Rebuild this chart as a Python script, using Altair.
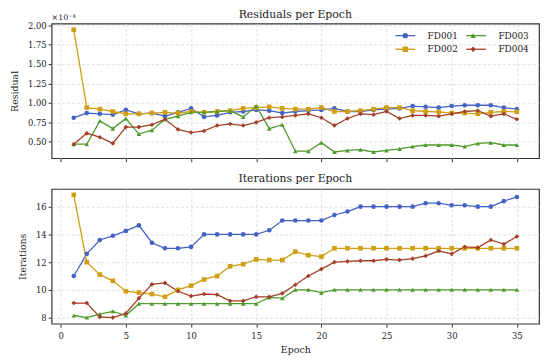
import altair as alt
import pandas as pd

epochs = list(range(1, 36))
series_names = ["FD001", "FD002", "FD003", "FD004"]

# Residuals (in units of 1e-4)
res_fd001 = [0.81, 0.87, 0.86, 0.85, 0.91, 0.86, 0.87, 0.83, 0.88, 0.93, 0.82, 0.84, 0.88, 0.89, 0.91,
             0.90, 0.87, 0.89, 0.90, 0.91, 0.93, 0.89, 0.89, 0.91, 0.92, 0.93, 0.96, 0.95, 0.94, 0.96,
             0.97, 0.97, 0.97, 0.94, 0.92]
res_fd002 = [1.94, 0.94, 0.92, 0.89, 0.86, 0.86, 0.87, 0.88, 0.87, 0.89, 0.88, 0.89, 0.90, 0.93, 0.94,
             0.95, 0.93, 0.92, 0.92, 0.94, 0.89, 0.89, 0.90, 0.92, 0.94, 0.94, 0.90, 0.89, 0.885, 0.87,
             0.87, 0.86, 0.88, 0.89, 0.885]
res_fd003 = [0.47, 0.47, 0.77, 0.67, 0.80, 0.60, 0.65, 0.79, 0.83, 0.88, 0.88, 0.89, 0.90, 0.82, 0.96,
             0.67, 0.72, 0.38, 0.38, 0.49, 0.37, 0.39, 0.40, 0.37, 0.39, 0.41, 0.44, 0.46, 0.46, 0.46,
             0.44, 0.48, 0.49, 0.46, 0.46]
res_fd004 = [0.47, 0.61, 0.56, 0.48, 0.69, 0.69, 0.72, 0.79, 0.66, 0.62, 0.64, 0.71, 0.73, 0.71, 0.75,
             0.81, 0.82, 0.84, 0.86, 0.81, 0.71, 0.80, 0.86, 0.85, 0.89, 0.80, 0.84, 0.84, 0.83, 0.86,
             0.89, 0.90, 0.83, 0.86, 0.79]

# Iterations
it_fd001 = [11.0, 12.6, 13.6, 13.9, 14.25, 14.65, 13.4, 13.0, 13.0, 13.1, 14.0, 14.0, 14.0, 14.0, 14.0,
            14.3, 15.0, 15.0, 15.0, 15.0, 15.4, 15.65, 16.0, 16.0, 16.0, 16.0, 16.0, 16.25, 16.25, 16.1,
            16.1, 16.0, 16.0, 16.4, 16.7]
it_fd002 = [16.85, 12.0, 11.1, 10.65, 9.9, 9.8, 9.7, 9.5, 10.0, 10.3, 10.75, 11.0, 11.7, 11.85, 12.2,
            12.15, 12.15, 12.75, 12.5, 12.4, 13.0, 13.0, 13.0, 13.0, 13.0, 13.0, 13.0, 13.0, 13.0, 13.0,
            13.0, 13.0, 13.0, 13.0, 13.0]
it_fd003 = [8.15, 8.0, 8.25, 8.45, 8.15, 9.0, 9.0, 9.0, 9.0, 9.0, 9.0, 9.0, 9.0, 9.0, 9.0,
            9.45, 9.4, 10.0, 10.0, 9.8, 10.0, 10.0, 10.0, 10.0, 10.0, 10.0, 10.0, 10.0, 10.0, 10.0,
            10.0, 10.0, 10.0, 10.0, 10.0]
it_fd004 = [9.05, 9.05, 8.05, 8.0, 8.3, 9.4, 10.4, 10.5, 9.9, 9.55, 9.7, 9.65, 9.2, 9.2, 9.5,
            9.5, 9.75, 10.37, 11.0, 11.5, 12.0, 12.05, 12.1, 12.1, 12.2, 12.15, 12.25, 12.45, 12.8, 12.6,
            13.1, 13.05, 13.6, 13.3, 13.85]

res_all = [res_fd001, res_fd002, res_fd003, res_fd004]
it_all = [it_fd001, it_fd002, it_fd003, it_fd004]

# marker-layer keys (distinct values so the marker legend is kept separate from the line legend)
marker_keys = [s + "m" for s in series_names]

rows = []
for name, mk, r, it in zip(series_names, marker_keys, res_all, it_all):
    for e, rv, iv in zip(epochs, r, it):
        rows.append({"epoch": e, "series": name, "marker": mk, "residual": rv, "iterations": iv})
df = pd.DataFrame(rows)

FONT = "DejaVu Serif"
colors = ["#4462c4", "#cf9e12", "#4f9a2c", "#a23f27"]
shapes = ["circle", "square", "triangle-up", "diamond"]

line_scale = alt.Scale(domain=series_names, range=colors)
fill_scale = alt.Scale(domain=marker_keys, range=colors)
shape_scale = alt.Scale(domain=marker_keys, range=shapes)

x_dom = [-0.7, 36.7]
W, H = 492, 136
LX, LY = 347, 7.5
LEG_COMMON = dict(title=None, orient="none", legendX=LX, legendY=LY, columns=2,
                  direction="vertical", labelFont=FONT, labelFontSize=9,
                  symbolOffset=5.5, labelOffset=18, columnPadding=4.5, rowPadding=4, padding=0)


def panel(field, ydom, yticks, ytitle, title, show_x, legend, toffset):
    base = alt.Chart(df)
    x_axis = alt.Axis(values=list(range(0, 40, 5)), labels=show_x, title="Epoch" if show_x else None)
    x = alt.X("epoch:Q", scale=alt.Scale(domain=x_dom, nice=False, zero=False), axis=x_axis)
    y = alt.Y(f"{field}:Q", scale=alt.Scale(domain=ydom, nice=False, zero=False),
              axis=alt.Axis(values=yticks, title=ytitle,
                            format=".2f" if field == "residual" else "d"))
    if legend:
        leg_line = alt.Legend(labelColor="#222", symbolType="M-2.857,0H2.857",
                              symbolSize=49, symbolStrokeWidth=1.3, **LEG_COMMON)
        leg_pts = alt.Legend(labelOpacity=0, labelExpr="slice(datum.label, 0, 5)",
                             symbolSize=30, symbolStrokeWidth=0, **LEG_COMMON)
    else:
        leg_line = None
        leg_pts = None
    lines = base.mark_line(strokeWidth=1.3).encode(
        x=x, y=y, stroke=alt.Stroke("series:N", scale=line_scale, legend=leg_line),
        detail="series:N")
    pts = base.mark_point(filled=True, size=22, opacity=1, strokeWidth=0).encode(
        x=x, y=y,
        fill=alt.Fill("marker:N", scale=fill_scale, legend=leg_pts),
        shape=alt.Shape("marker:N", scale=shape_scale, legend=leg_pts))
    layers = [lines, pts]
    if field == "residual":
        txt = alt.Chart(pd.DataFrame({"t": ["×10⁻⁴"]})).mark_text(
            align="left", baseline="bottom", font=FONT, fontSize=8, color="#222").encode(
            x=alt.value(0), y=alt.value(-2), text="t:N")
        layers.append(txt)
    return alt.layer(*layers).properties(
        width=W, height=H,
        title=alt.TitleParams(title, font=FONT, fontSize=11, fontWeight="normal",
                              anchor="middle", offset=toffset, color="#222"))


top = panel("residual", [0.29, 2.02], [0.5, 0.75, 1.0, 1.25, 1.5, 1.75, 2.0], "Residual",
            "Residuals per Epoch", False, True, -6)
bottom = panel("iterations", [7.56, 17.28], [8, 10, 12, 14, 16], "Iterations",
               "Iterations per Epoch", True, False, 5)

chart = alt.vconcat(top, bottom, spacing=9).resolve_scale(
    stroke="independent", fill="independent", shape="independent"
).properties(
    padding={"left": 0, "top": -2, "right": 2, "bottom": 0}
).configure_view(
    stroke="#333", strokeWidth=1.2
).configure_axis(
    domain=False, tickColor="#333", tickSize=3.5, tickWidth=1,
    labelFont=FONT, labelFontSize=8.5, labelColor="#222", labelPadding=2,
    titleFont=FONT, titleFontSize=9.5, titleFontWeight="normal", titleColor="#222",
    titlePadding=8, grid=True, gridColor="#d8d8d8", gridDash=[3, 2], gridWidth=0.8
).configure_axisX(labelPadding=4, titlePadding=5)

chart.save("out.html", embed_options={"renderer": "svg", "actions": False})
